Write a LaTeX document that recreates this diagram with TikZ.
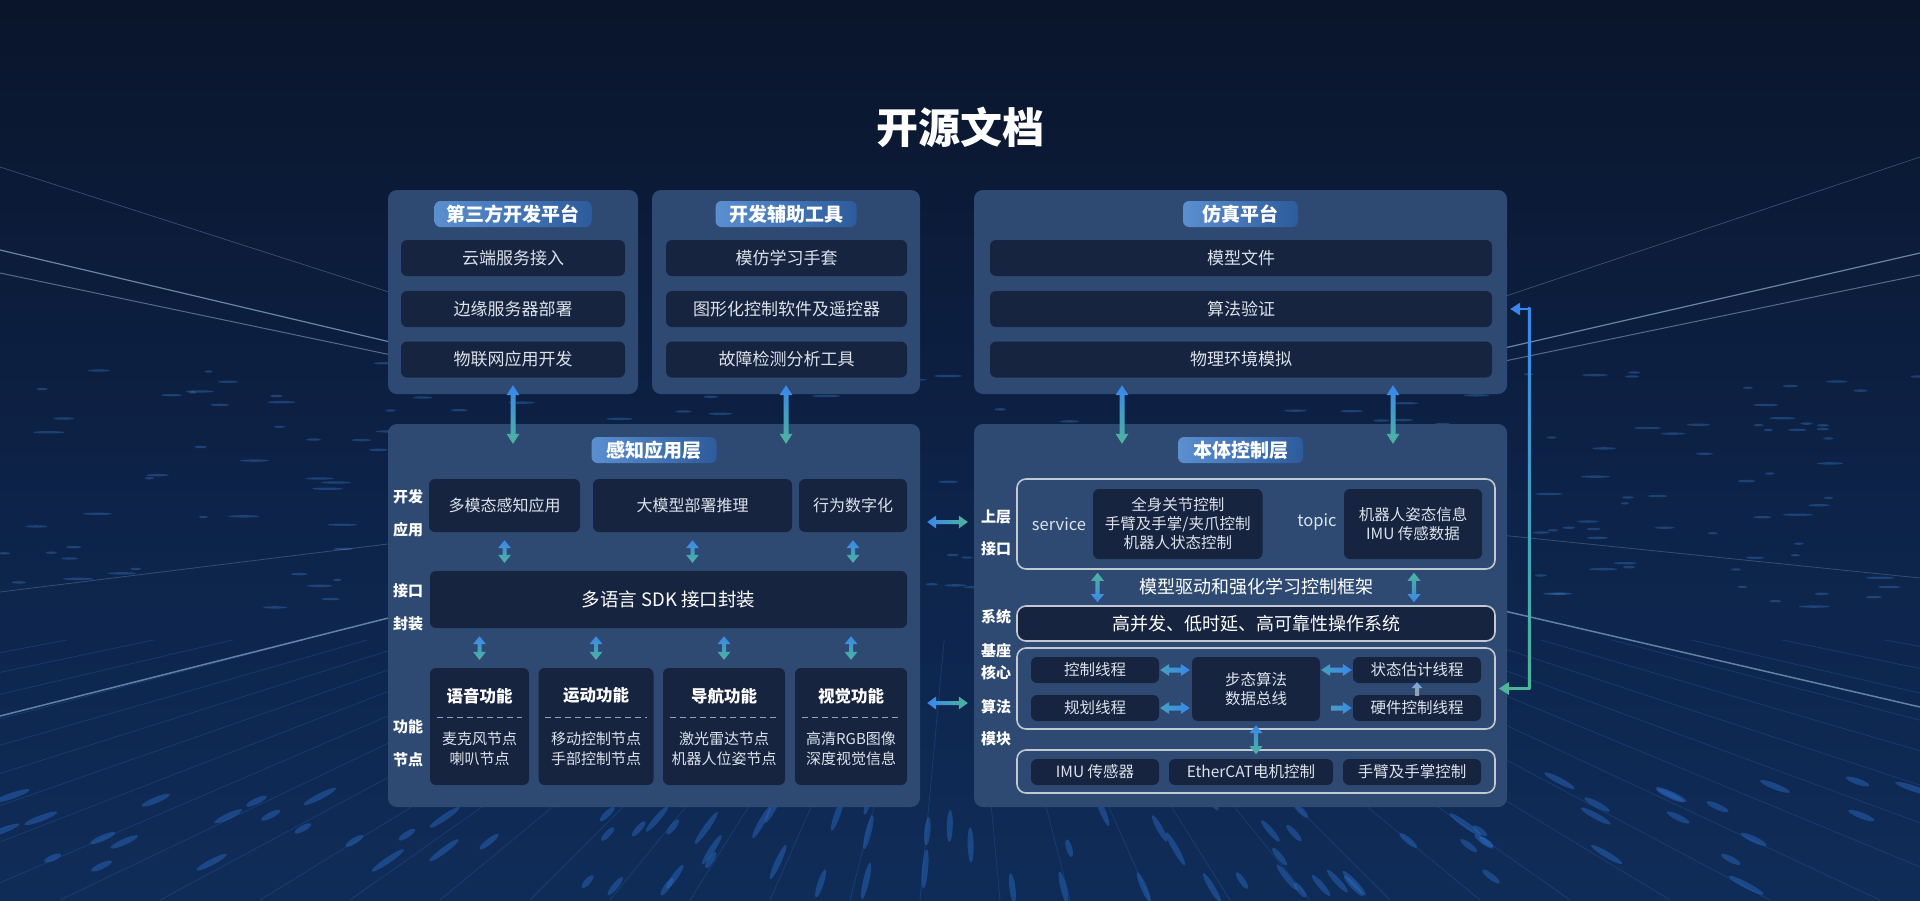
\documentclass[tikz,border=0pt]{standalone}
\usepackage{fontspec}
\setmainfont{Noto Sans CJK SC}
\usetikzlibrary{calc,arrows.meta}
\definecolor{bgtop}{HTML}{0A152B}
\definecolor{bgmid}{HTML}{0D2247}
\definecolor{bgbot}{HTML}{0F2C58}
\definecolor{panelc}{HTML}{2E4A72}
\definecolor{boxc}{HTML}{172440}
\definecolor{pillL}{HTML}{5B8FD0}
\definecolor{pillR}{HTML}{2D5B9B}
\definecolor{txt}{HTML}{DDE2EA}
\definecolor{olc}{HTML}{C3C9D3}
\definecolor{dashc}{HTML}{9AA3B2}
\definecolor{ablue}{HTML}{3A86EC}
\definecolor{ateal}{HTML}{4DB59C}
\definecolor{agray}{HTML}{A39C92}
\definecolor{beamc}{HTML}{A8CBEE}
\definecolor{streakc}{HTML}{3F8FE6}
\definecolor{floorc}{HTML}{2B6CC4}
\newcommand\fs[2]{\fontsize{#1}{#2}\selectfont}
% vertical double arrow: top, bottom, top colour, bottom colour, head length, head half width, shaft half width
\newcommand\vdarrow[7]{\path[top color=#3,bottom color=#4] let \p1=#1,\p2=#2 in
 (\x1,\y1) -- (\x1+#6pt,\y1-#5pt) -- (\x1+#7pt,\y1-#5pt) -- (\x1+#7pt,\y2+#5pt) -- (\x1+#6pt,\y2+#5pt) -- (\x1,\y2) -- (\x1-#6pt,\y2+#5pt) -- (\x1-#7pt,\y2+#5pt) -- (\x1-#7pt,\y1-#5pt) -- (\x1-#6pt,\y1-#5pt) -- cycle;}
% horizontal double arrow: left, right, left colour, right colour, ...
\newcommand\hdarrow[7]{\path[left color=#3,right color=#4] let \p1=#1,\p2=#2 in
 (\x1,\y1) -- (\x1+#5pt,\y1+#6pt) -- (\x1+#5pt,\y1+#7pt) -- (\x2-#5pt,\y1+#7pt) -- (\x2-#5pt,\y1+#6pt) -- (\x2,\y1) -- (\x2-#5pt,\y1-#6pt) -- (\x2-#5pt,\y1-#7pt) -- (\x1+#5pt,\y1-#7pt) -- (\x1+#5pt,\y1-#6pt) -- cycle;}
% single right arrow: tail, tip
\newcommand\hsarrow[7]{\path[left color=#3,right color=#4] let \p1=#1,\p2=#2 in
 (\x1,\y1+#7pt) -- (\x2-#5pt,\y1+#7pt) -- (\x2-#5pt,\y1+#6pt) -- (\x2,\y1) -- (\x2-#5pt,\y1-#6pt) -- (\x2-#5pt,\y1-#7pt) -- (\x1,\y1-#7pt) -- cycle;}
% single up arrow: tip (top), tail (bottom)
\newcommand\usarrow[7]{\path[top color=#3,bottom color=#4] let \p1=#1,\p2=#2 in
 (\x1,\y1) -- (\x1+#6pt,\y1-#5pt) -- (\x1+#7pt,\y1-#5pt) -- (\x1+#7pt,\y2) -- (\x1-#7pt,\y2) -- (\x1-#7pt,\y1-#5pt) -- (\x1-#6pt,\y1-#5pt) -- cycle;}
\begin{document}
\begin{tikzpicture}[x=1pt,y=-1pt,
  wh/.style 2 args={minimum width=#1pt, minimum height=#2pt},
  panel/.style={fill=panelc, rounded corners=9pt, inner sep=0pt},
  ibox/.style={fill=boxc, rounded corners=6pt, inner sep=0pt, text=txt, align=center, font=\fs{17}{20}},
  pill/.style={left color=pillL, right color=pillR, rounded corners=6pt, inner sep=0pt, text=white, font=\bfseries\fs{19}{21}},
  side/.style={text=white, inner sep=0pt, font=\bfseries\fs{15}{18}},
  obox/.style={draw=olc, line width=1.6pt, rounded corners=9pt, inner sep=0pt},
  plain/.style={inner sep=0pt, text=txt, align=center},
  beam/.style={draw=beamc, line cap=round},
]
\useasboundingbox (0,0) rectangle (1920,900);
% ---------- background ----------
\begin{scope}
\clip (0,0) rectangle (1920,900);
\shade[top color=bgtop, bottom color=bgmid] (0,0) rectangle (1920,471);
\shade[top color=bgmid, bottom color=bgbot] (0,470) rectangle (1920,900);
\begin{scope}
\clip (0,640) rectangle (1920,900);
\foreach \bx in {-2600,-2200,-1850,-1550,-1300,-1080,-880,-700,-540,-400,-270,-150,-40,60,160,260,350,440,530,610,690,770,850,920,1000,1070,1150,1230,1310,1390,1480,1570,1670,1770,1880,2000,2130,2270,2430,2610,2810,3040,3300,3600,4000}{
  \draw[floorc, opacity=0.28, line width=0.8pt] (960,470) -- (\bx,900);
}
\end{scope}
\pgfmathsetseed{17}
\foreach \i in {1,...,220}{
  \pgfmathsetmacro\rx{rnd*1920}
  \pgfmathsetmacro\ry{360+rnd*250}
  \pgfmathsetmacro\rl{4+rnd*12}
  \fill[streakc, opacity=0.3] (\rx,\ry) ellipse [x radius=\rl pt, y radius=1.2pt];
}
\foreach \i in {1,...,90}{
  \pgfmathsetmacro\rx{rnd*1920}
  \pgfmathsetmacro\ry{780+rnd*110}
  \pgfmathsetmacro\rl{8+rnd*12}
  \pgfmathsetmacro\ang{atan2(-(\ry-470),\rx-960)}
  \begin{scope}[shift={(\rx,\ry)}, rotate=\ang]
    \fill[floorc, opacity=0.45] (0,0) ellipse [x radius=\rl pt, y radius=3pt];
  \end{scope}
}
\draw[beam, opacity=0.30, line width=0.7pt] (0,167) -- (420,302);
\draw[beam, opacity=0.60, line width=1.2pt] (0,250) -- (420,349);
\draw[beam, opacity=0.45, line width=1pt] (0,273) -- (420,361);
\draw[beam, opacity=0.25, line width=0.8pt] (0,592) -- (420,540);
\draw[beam, opacity=0.55, line width=1.5pt] (0,716) -- (420,610);
\draw[beam, opacity=0.30, line width=0.7pt] (1500,298) -- (1920,157);
\draw[beam, opacity=0.60, line width=1.2pt] (1500,349) -- (1920,253);
\draw[beam, opacity=0.45, line width=1pt] (1500,362) -- (1920,275);
\draw[beam, opacity=0.25, line width=0.8pt] (1500,535) -- (1920,578);
\draw[beam, opacity=0.55, line width=1.5pt] (1500,610) -- (1920,707);
\end{scope}
% ---------- title ----------
\node[text=white, inner sep=0pt, font=\bfseries\fs{42}{46}] (title) at (960,127) {开源文档};
% ---------- panels ----------
\node[panel, wh={250}{204}] (pA) at (513,292) {};
\node[panel, wh={268}{204}] (pB) at (786,292) {};
\node[panel, wh={533}{204}] (pC) at (1240.5,292) {};
\node[panel, wh={532}{383}] (pD) at (654,615.5) {};
\node[panel, wh={533}{383}] (pE) at (1240.5,615.5) {};
% pills
\node[pill, wh={157}{26}] (tA) at (513,214) {第三方开发平台};
\node[pill, wh={141}{26}] (tB) at (786,214) {开发辅助工具};
\node[pill, wh={115}{26}] (tC) at (1240.5,214) {仿真平台};
\node[pill, wh={125}{26}] (tD) at (654,450) {感知应用层};
\node[pill, wh={125}{26}] (tE) at (1240.5,450) {本体控制层};
% top panel rows
\node[ibox, wh={224}{36}] (a1) at (513,258) {云端服务接入};
\node[ibox, wh={224}{36}] (a2) at (513,309) {边缘服务器部署};
\node[ibox, wh={224}{36}] (a3) at (513,359.5) {物联网应用开发};
\node[ibox, wh={241}{36}] (b1) at (786.5,258) {模仿学习手套};
\node[ibox, wh={241}{36}] (b2) at (786.5,309) {图形化控制软件及遥控器};
\node[ibox, wh={241}{36}] (b3) at (786.5,359.5) {故障检测分析工具};
\node[ibox, wh={502}{36}] (c1) at (1241,258) {模型文件};
\node[ibox, wh={502}{36}] (c2) at (1241,309) {算法验证};
\node[ibox, wh={502}{36}] (c3) at (1241,359.5) {物理环境模拟};
% ---------- panel D: 感知应用层 ----------
\node[side] (l1) at (408,497) {开发};
\node[side] (l2) at (408,530) {应用};
\node[side] (l3) at (408,591) {接口};
\node[side] (l4) at (408,624) {封装};
\node[side] (l5) at (408,727) {功能};
\node[side] (l6) at (408,760) {节点};
\node[ibox, wh={151}{53}, font=\fs{16}{19}] (d1) at (504.5,505.5) {多模态感知应用};
\node[ibox, wh={199}{53}, font=\fs{16}{19}] (d2) at (692.5,505.5) {大模型部署推理};
\node[ibox, wh={108}{53}, font=\fs{16}{19}] (d3) at (853,505.5) {行为数字化};
\node[ibox, wh={477}{57}, font=\fs{18.5}{21}, text=white] (sdk) at (668.5,599.5) {多语言 SDK 接口封装};
\node[ibox, wh={99}{117}] (f1) at (479.5,726.5) {};
\node[ibox, wh={115}{117}] (f2) at (596,726.5) {};
\node[ibox, wh={122}{117}] (f3) at (724,726.5) {};
\node[ibox, wh={112}{117}] (f4) at (851,726.5) {};
\foreach \f/\t/\b in {f1/语音功能/{麦克风节点\\喇叭节点},f2/运动功能/{移动控制节点\\手部控制节点},f3/导航功能/{激光雷达节点\\机器人位姿节点},f4/视觉功能/{高清RGB图像\\深度视觉信息}}{
  \node[plain, text=white, font=\bfseries\fs{16.5}{19}] (\f t) at ($(\f.north)+(0,28)$) {\t};
  \draw[dashc, line width=1pt, dash pattern=on 6pt off 4pt] ($(\f.north west)+(7,50)$) -- ($(\f.north east)+(-7,50)$);
  \node[plain, font=\fs{15}{20}] (\f b) at ($(\f.north)+(0,81)$) {\b};
}
% arrows in D
\foreach \d in {d1,d2,d3}{
  \vdarrow{($(\d.south)+(0,8)$)}{($(\d.south |- sdk.north)+(0,-8)$)}{ablue}{ateal}{8}{6.5}{2}
}
\foreach \f in {f1,f2,f3,f4}{
  \vdarrow{($(\f.north |- sdk.south)+(0,8)$)}{($(\f.north)+(0,-8)$)}{ablue}{ateal}{8}{6.5}{2}
}
% ---------- panel E: 本体控制层 ----------
\node[side] (r1) at (996,517) {上层};
\node[side] (r2) at (996,549) {接口};
\node[side] (r3) at (996,617) {系统};
\node[side] (r4) at (996,651) {基座};
\node[side] (r5) at (996,673) {核心};
\node[side] (r6) at (996,707) {算法};
\node[side] (r7) at (996,739) {模块};
\node[obox, wh={478}{90}] (ui) at (1256,524) {};
\node[plain, font=\fs{16.5}{19}] (svl) at (1059,524) {service};
\node[ibox, wh={169.5}{70}, font=\fs{15.5}{19}] (svc) at (1177.75,524) {全身关节控制\\手臂及手掌/夹爪控制\\机器人状态控制};
\node[plain, font=\fs{16.5}{19}] (tpl) at (1317,522) {topic};
\node[ibox, wh={138}{70}, font=\fs{15.5}{19}] (tp) at (1413,524) {机器人姿态信息\\IMU 传感数据};
\node[obox, fill=boxc, wh={478}{35}, text=white, font=\fs{18}{20}] (sys) at (1256,623.5) {高并发、低时延、高可靠性操作系统};
\node[plain, text=white, font=\fs{18}{20}] (fw) at (1256,587) {模型驱动和强化学习控制框架};
\vdarrow{($(ui.south)+(-158.5,3)$)}{($(sys.north)+(-158.5,-3)$)}{ateal}{ablue}{8}{6.5}{2.2}
\vdarrow{($(tp.south |- ui.south)+(1,3)$)}{($(tp.south |- sys.north)+(1,-3)$)}{ateal}{ablue}{8}{6.5}{2.2}
\node[obox, wh={478}{81}] (core) at (1256,688.5) {};
\node[ibox, wh={128}{26}, font=\fs{15.5}{19}] (k1) at (1095,670) {控制线程};
\node[ibox, wh={128}{26}, font=\fs{15.5}{19}] (k2) at (1095,708) {规划线程};
\node[ibox, wh={128}{64}, font=\fs{15.5}{19}] (k3) at (1256,689) {步态算法\\数据总线};
\node[ibox, wh={128}{26}, font=\fs{15.5}{19}] (k4) at (1417,670) {状态估计线程};
\node[ibox, wh={128}{26}, font=\fs{15.5}{19}] (k5) at (1417,708) {硬件控制线程};
\hdarrow{($(k1.east)+(1,0)$)}{($(k3.west |- k1.east)+(-2,0)$)}{ateal!55!ablue}{ablue}{9}{6}{2.5}
\hdarrow{($(k2.east)+(1,0)$)}{($(k3.west |- k2.east)+(-2,0)$)}{ateal!55!ablue}{ablue}{9}{6}{2.5}
\hdarrow{($(k3.east |- k4.west)+(1,0)$)}{($(k4.west)+(-1,0)$)}{ateal!55!ablue}{ablue}{9}{6}{2.5}
\hsarrow{($(k3.east |- k5.west)+(11,0)$)}{($(k5.west)+(-1,0)$)}{ateal!55!ablue}{ablue}{9}{6}{2.5}
\usarrow{($(k4.south)+(0,-1)$)}{($(k5.north)+(0,1)$)}{ablue!70!white}{agray}{6}{5.5}{2}
\node[obox, wh={478}{43}] (hw) at (1256,771.5) {};
\node[ibox, wh={128}{26}, font=\fs{15.5}{19}] (m1) at (1095,772) {IMU 传感器};
\node[ibox, wh={164}{26}, font=\fs{15.5}{19}] (m2) at (1251,772) {EtherCAT电机控制};
\node[ibox, wh={138}{26}, font=\fs{15.5}{19}] (m3) at (1412,772) {手臂及手掌控制};
\vdarrow{($(k3.south)+(0,4)$)}{($(k3.south |- hw.north)+(0,5)$)}{ablue}{ateal}{8}{6.5}{2.2}
% ---------- arrows between panels ----------
\vdarrow{($(pA.south)+(0,-9)$)}{($(pA.south |- pD.north)+(0,20)$)}{ablue}{ateal}{10}{6.5}{2.5}
\vdarrow{($(pB.south)+(0,-9)$)}{($(pB.south |- pD.north)+(0,20)$)}{ablue}{ateal}{10}{6.5}{2.5}
\vdarrow{($(pC.south)+(-118.5,-9)$)}{($(pC.south |- pE.north)+(-118.5,20)$)}{ablue}{ateal}{10}{6.5}{2.5}
\vdarrow{($(pC.south)+(152.5,-9)$)}{($(pC.south |- pE.north)+(152.5,20)$)}{ablue}{ateal}{10}{6.5}{2.5}
\hdarrow{($(pD.east |- ui.west)+(7,-2)$)}{($(ui.west -| pE.west)+(-6,-2)$)}{ablue}{ateal}{9}{6.5}{2}
\hdarrow{($(pD.east |- r6.west)+(7,-4)$)}{($(r6.west -| pE.west)+(-6,-4)$)}{ablue}{ateal}{9}{6.5}{2}
% ---------- right feedback connector ----------
\coordinate (rt) at ($(c2.east -| pC.east)+(22,0)$);
\coordinate (rb) at (rt |- core.east);
\path[top color=ablue, bottom color=ateal] ($(rt)+(-1.25,-1.25)$) rectangle ($(rb)+(1.25,1.25)$);
\draw[ablue, line width=2.5pt, -{Triangle[length=10pt,width=12pt]}] ($(rt)+(1.25,0)$) -- ($(c2.east -| pC.east)+(3,0)$);
\draw[ateal, line width=2.5pt, -{Triangle[length=10pt,width=12pt]}] ($(rb)+(1.25,0)$) -- ($(core.east)+(3,0)$);
\end{tikzpicture}
\end{document}
